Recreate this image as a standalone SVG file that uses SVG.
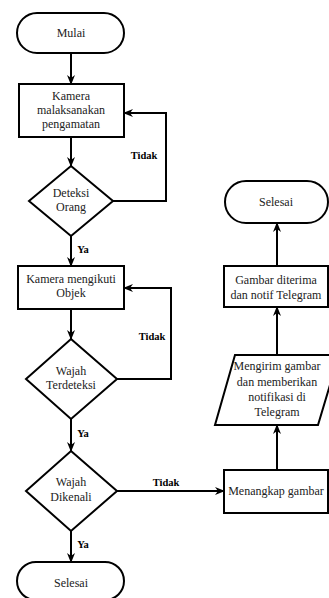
<svg xmlns="http://www.w3.org/2000/svg" width="329" height="598" viewBox="0 0 329 598">
<style>
.s{fill:#fff;stroke:#000;stroke-width:2}
.t{font-family:'Liberation Serif','Times New Roman','DejaVu Serif',serif;font-size:12px;fill:#222;text-anchor:middle}
.l{font-family:'Liberation Serif','Times New Roman','DejaVu Serif',serif;font-size:10.5px;font-weight:bold;fill:#000;text-anchor:middle}
.c{fill:none;stroke:#000;stroke-width:2}
</style>
<defs>
<marker id="a" markerUnits="userSpaceOnUse" markerWidth="10" markerHeight="10" viewBox="0 0 10 10" refX="9" refY="5" orient="auto">
<path d="M0,1 L10,5 L0,9 L3,5 Z" fill="#000"/>
</marker>
</defs>
<rect width="329" height="598" fill="#fff"/>
<g id="connectors">
<line class="c" x1="71" y1="53" x2="71" y2="84" marker-end="url(#a)"/>
<line class="c" x1="71" y1="137" x2="71" y2="166" marker-end="url(#a)"/>
<polyline class="c" points="113,201 166,201 166,113 124,113" marker-end="url(#a)"/>
<text class="l" x="144" y="159" font-family="Liberation Serif, serif">Tidak</text>
<line class="c" x1="71" y1="236" x2="71" y2="266" marker-end="url(#a)"/>
<text class="l" x="83" y="253" font-family="Liberation Serif, serif">Ya</text>
<polyline class="c" points="117,379 171,379 171,288 124,288" marker-end="url(#a)"/>
<text class="l" x="152" y="340" font-family="Liberation Serif, serif">Tidak</text>
<line class="c" x1="71" y1="309" x2="71" y2="339" marker-end="url(#a)"/>
<line class="c" x1="71" y1="419" x2="71" y2="451" marker-end="url(#a)"/>
<text class="l" x="83" y="437" font-family="Liberation Serif, serif">Ya</text>
<line class="c" x1="71" y1="531" x2="71" y2="562" marker-end="url(#a)"/>
<text class="l" x="83" y="548" font-family="Liberation Serif, serif">Ya</text>
<line class="c" x1="117" y1="491" x2="224" y2="491" marker-end="url(#a)"/>
<text class="l" x="166" y="486" font-family="Liberation Serif, serif">Tidak</text>
<line class="c" x1="277" y1="470" x2="277" y2="425" marker-end="url(#a)"/>
<line class="c" x1="277" y1="355" x2="277" y2="307" marker-end="url(#a)"/>
<line class="c" x1="277" y1="266" x2="277" y2="223" marker-end="url(#a)"/>
</g>
<g id="mulai">
<rect class="s" x="17" y="13" width="107" height="40" rx="20"/>
<text class="t" x="71" y="37" font-family="Liberation Serif, serif">Mulai</text>
</g>
<g id="kamera1" font-family="Liberation Serif, serif">
<rect class="s" x="19" y="84" width="105" height="53"/>
<text class="t" x="71" y="100">Kamera</text>
<text class="t" x="71" y="114">malaksanakan</text>
<text class="t" x="71" y="128">pengamatan</text>
</g>
<g id="deteksi">
<polygon class="s" points="71,166 113,201 71,236 29,201"/>
<text class="t" x="71" y="197">Deteksi</text>
<text class="t" x="71" y="211">Orang</text>
</g>
<g id="kamera2">
<rect class="s" x="18" y="266" width="106" height="43"/>
<text class="t" x="71" y="283">Kamera mengikuti</text>
<text class="t" x="71" y="297">Objek</text>
</g>
<g id="terdeteksi">
<polygon class="s" points="71,339 117,379 71,419 26,379"/>
<text class="t" x="71" y="375">Wajah</text>
<text class="t" x="71" y="389">Terdeteksi</text>
</g>
<g id="dikenali">
<polygon class="s" points="71,451 117,491 71,531 26,491"/>
<text class="t" x="71" y="486">Wajah</text>
<text class="t" x="71" y="501">Dikenali</text>
</g>
<g id="selesai1">
<rect class="s" x="17" y="562" width="107" height="38" rx="19"/>
<text class="t" x="71" y="587">Selesai</text>
</g>
<g id="menangkap">
<rect class="s" x="224" y="470" width="104" height="43"/>
<text class="t" x="276" y="495">Menangkap gambar</text>
</g>
<g id="mengirim">
<polygon class="s" points="235,355 339,355 318,425 215,425"/>
<text class="t" x="277" y="370">Mengirim gambar</text>
<text class="t" x="277" y="386">dan memberikan</text>
<text class="t" x="277" y="401">notifikasi di</text>
<text class="t" x="277" y="416">Telegram</text>
</g>
<g id="gambar">
<rect class="s" x="224" y="266" width="104" height="41"/>
<text class="t" x="276" y="284">Gambar diterima</text>
<text class="t" x="276" y="299">dan notif Telegram</text>
</g>
<g id="selesai2">
<rect class="s" x="225" y="181" width="103" height="42" rx="21"/>
<text class="t" x="276" y="206">Selesai</text>
</g>
</svg>
